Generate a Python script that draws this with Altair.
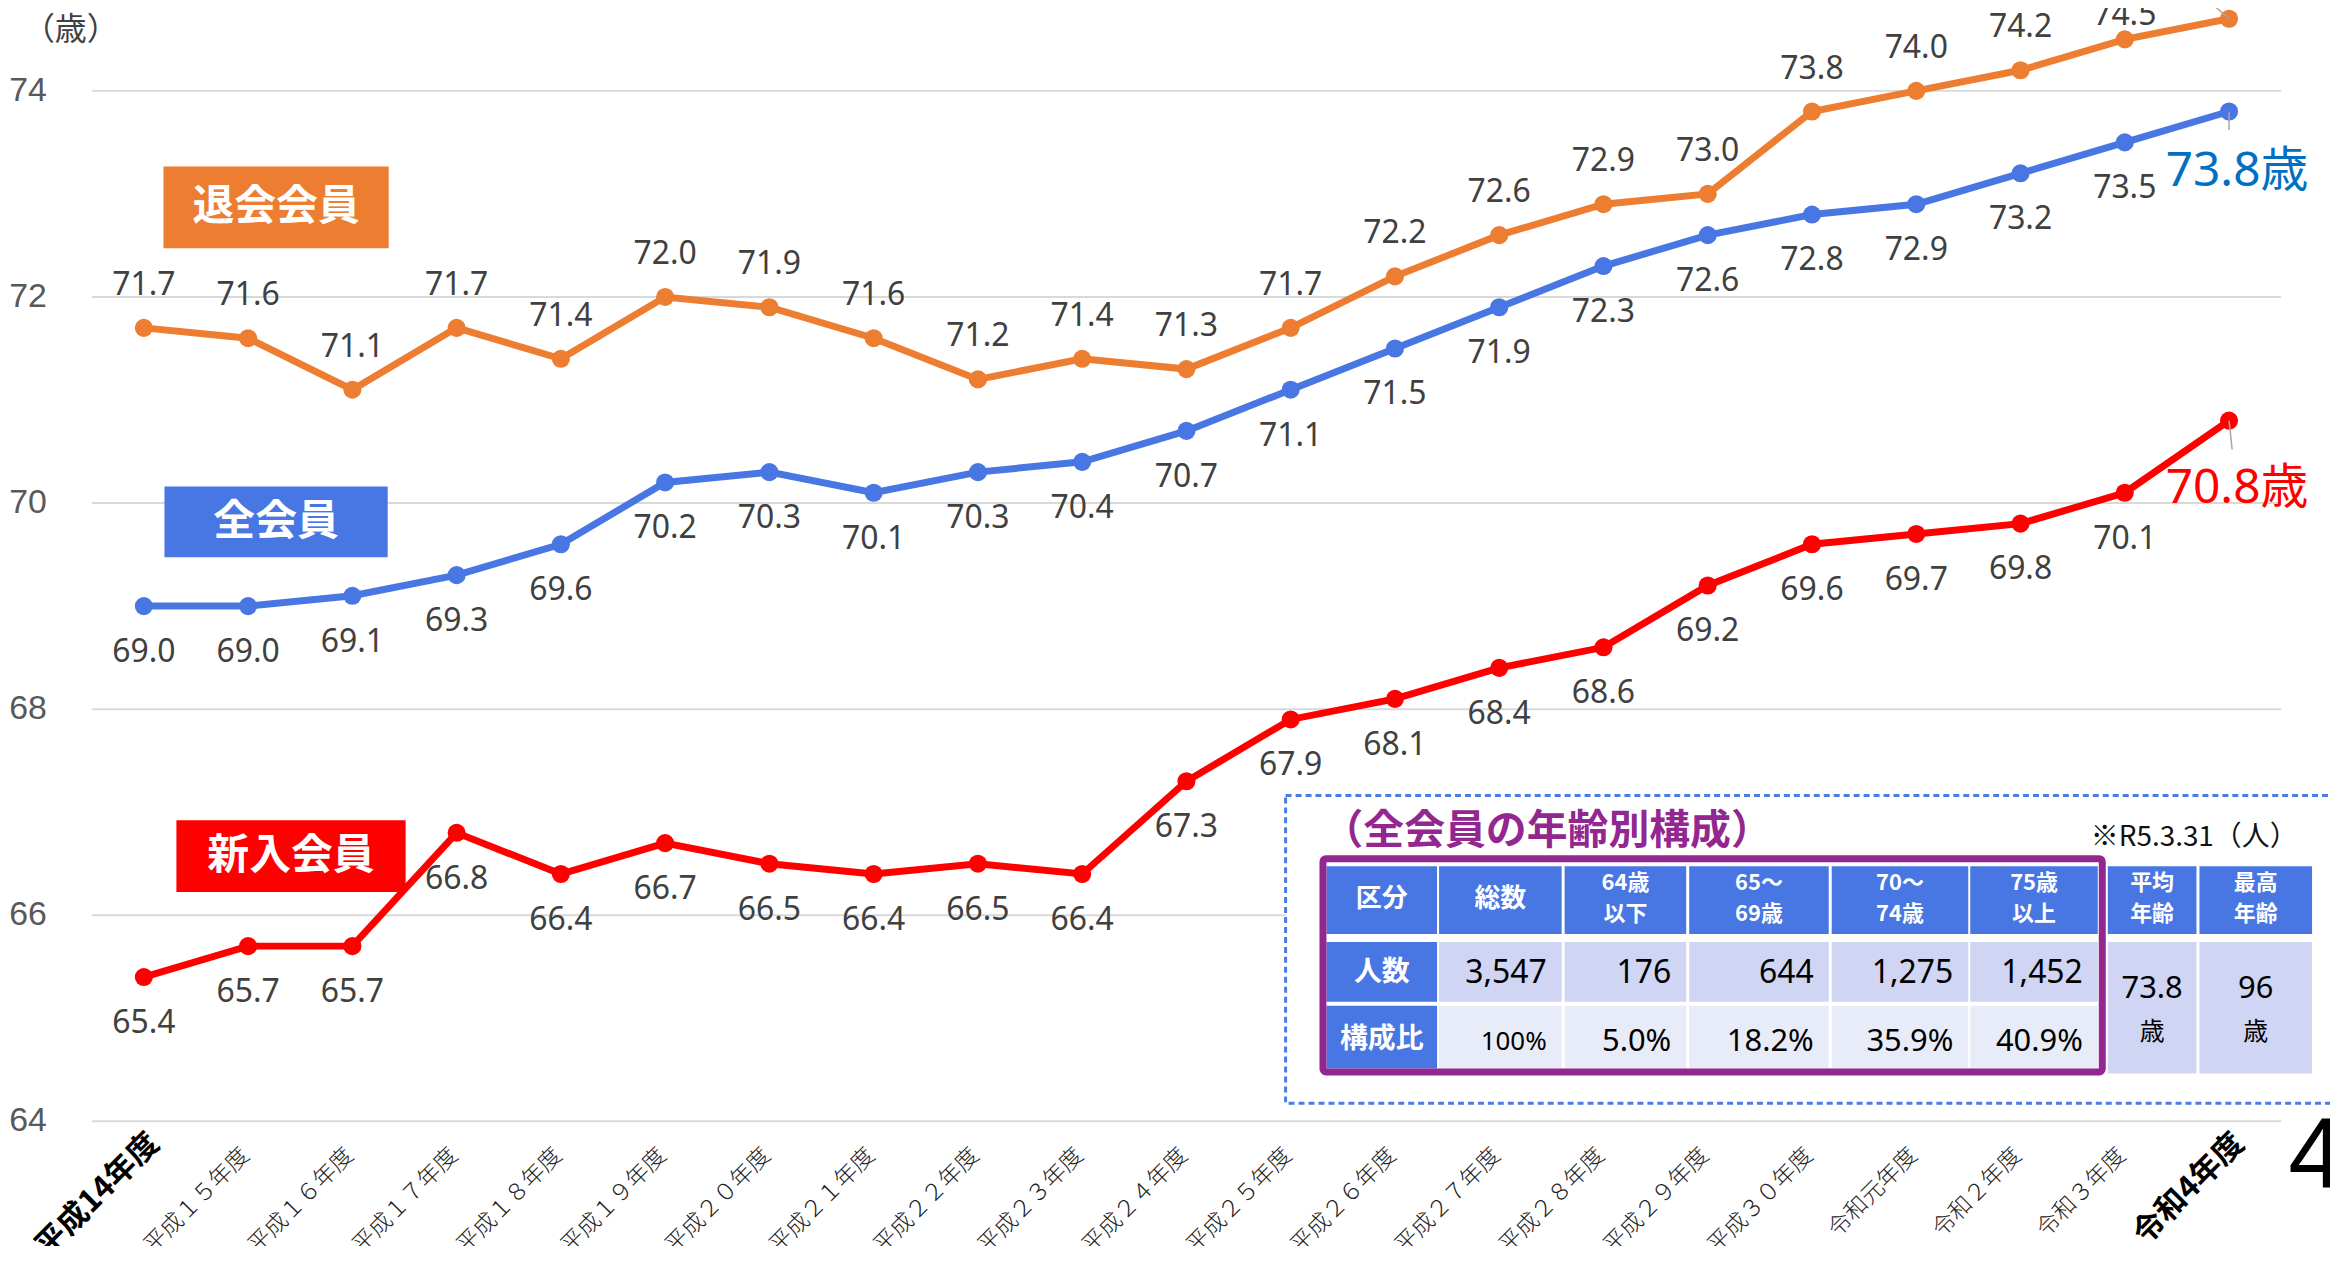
import altair as alt
import pandas as pd

# ---------------- data ----------------
years = ["平成14年度", "平成１５年度", "平成１６年度", "平成１７年度", "平成１８年度",
         "平成１９年度", "平成２０年度", "平成２１年度", "平成２２年度", "平成２３年度",
         "平成２４年度", "平成２５年度", "平成２６年度", "平成２７年度", "平成２８年度",
         "平成２９年度", "平成３０年度", "令和元年度", "令和２年度", "令和３年度", "令和4年度"]
bold_years = ["平成14年度", "令和4年度"]

retired = [71.7, 71.6, 71.1, 71.7, 71.4, 72.0, 71.9, 71.6, 71.2, 71.4, 71.3,
           71.7, 72.2, 72.6, 72.9, 73.0, 73.8, 74.0, 74.2, 74.5, 74.7]
all_members = [69.0, 69.0, 69.1, 69.3, 69.6, 70.2, 70.3, 70.1, 70.3, 70.4, 70.7,
               71.1, 71.5, 71.9, 72.3, 72.6, 72.8, 72.9, 73.2, 73.5, 73.8]
new_members = [65.4, 65.7, 65.7, 66.8, 66.4, 66.7, 66.5, 66.4, 66.5, 66.4, 67.3,
               67.9, 68.1, 68.4, 68.6, 69.2, 69.6, 69.7, 69.8, 70.1, 70.8]
series_names = ["退会会員", "全会員", "新入会員"]

y_ticks = [64, 66, 68, 70, 72, 74]
y_unit = "（歳）"

table_title = "（全会員の年齢別構成）"
table_note = "※R5.3.31（人）"
table_header = [["区分"], ["総数"], ["64歳", "以下"], ["65～", "69歳"], ["70～", "74歳"],
                ["75歳", "以上"], ["平均", "年齢"], ["最高", "年齢"]]
table_rows = ["人数", "構成比"]
table_counts = ["3,547", "176", "644", "1,275", "1,452"]
table_ratios = ["100%", "5.0%", "18.2%", "35.9%", "40.9%"]
avg_age = "73.8"
max_age = "96"
age_unit = "歳"

# ---------------- styles / layout ----------------
ORANGE = "#ED7D31"
BLUE = "#4876E2"
RED = "#FF0000"
PURPLE = "#92278F"
LIGHT1 = "#CFD5F3"
LIGHT2 = "#E8EBF8"
colors = [ORANGE, BLUE, RED]

W, H = 2197, 1111
OX, OY = 92, 12           # plot origin in page pixels
YMAX = 74.745

XS = alt.Scale(domain=[-0.5, 20.5], nice=False, zero=False)
YS = alt.Scale(domain=[64, YMAX], nice=False, zero=False)
X = alt.X("i:Q", scale=XS, axis=None)

PXf = lambda f: alt.X(f"{f}:Q", scale=None, axis=None)
PYf = lambda f: alt.Y(f"{f}:Q", scale=None, axis=None)


def box_df(items):
    return pd.DataFrame([dict(x=a - OX, x2=b - OX, y=c - OY, y2=d - OY, **extra)
                         for (a, b, c, d, extra) in items])


def txt_df(items):
    return pd.DataFrame([dict(x=a - OX, y=b - OY, t=t, **extra) for (a, b, t, extra) in items])


# main long table
rows = []
for name, vals in zip(series_names, [retired, all_members, new_members]):
    for i, v in enumerate(vals):
        rows.append(dict(s=name, i=i, v=v, lab=f"{v:.1f}"))
df = pd.DataFrame(rows)

layers = []

# ---- gridlines and y labels through the y scale ----
dgrid = pd.DataFrame(dict(t=y_ticks))
layers.append(alt.Chart(dgrid).mark_rule(color="#D9D9D9", strokeWidth=2).encode(
    y=alt.Y("t:Q", scale=YS, axis=None), x=alt.value(0), x2=alt.value(W)))
layers.append(alt.Chart(dgrid).mark_text(
    font="Liberation Sans Narrow, Liberation Sans", fontSize=34, color="#595959",
    align="right").encode(
    y=alt.Y("t:Q", scale=YS, axis=None), x=alt.value(-45), text="t:Q"))

# legend boxes (below the lines)
leg_geom = [(164, 390, 165, 247), (165, 389, 486, 557), (177, 407, 821, 893)]
legb = box_df([(g[0], g[1], g[2], g[3], dict(c=c, t=n, tx=(g[0] + g[1]) / 2 - OX, ty=(g[2] + g[3]) / 2 - OY))
               for g, c, n in zip(leg_geom, colors, series_names)])
layers.append(alt.Chart(legb).mark_rect().encode(
    x=PXf("x"), x2="x2:Q", y=PYf("y"), y2="y2:Q",
    color=alt.Color("c:N", scale=None, legend=None)))
layers.append(alt.Chart(legb).mark_text(font="Noto Sans CJK JP", fontWeight="bold",
                                        fontSize=42, color="white").encode(
    x=PXf("tx"), y=PYf("ty"), text="t:N"))

for k, (name, c) in enumerate(zip(series_names, colors)):
    b = alt.Chart(df).transform_filter(alt.datum.s == name)
    layers.append(b.mark_line(color=c, strokeWidth=7).encode(
        x=X, y=alt.Y("v:Q", scale=YS, axis=None)))
    layers.append(b.mark_circle(size=330, color=c, opacity=1).encode(
        x=X, y=alt.Y("v:Q", scale=YS, axis=None)))
    if k == 0:
        expr = f"min(datum.v + 0.416, {YMAX - 0.005})"
    else:
        expr = "datum.v - 0.445"
    layers.append(b.transform_filter(alt.datum.i < 20).transform_calculate(ly=expr)
                  .mark_text(font="Noto Sans", fontSize=32, color="#404040").encode(
        x=X, y=alt.Y("ly:Q", scale=YS, axis=None), text="lab:N"))

# leader lines at last points
lead = pd.DataFrame([
    dict(i=20, v=retired[-1], i2=20 - 0.4, v2=retired[-1] + 0.35),
    dict(i=20, v=all_members[-1], i2=20, v2=all_members[-1] - 0.18),
    dict(i=20, v=new_members[-1], i2=20 + 0.03, v2=new_members[-1] - 0.28),
])
layers.append(alt.Chart(lead).mark_rule(color="#A6A6A6", strokeWidth=1.5).encode(
    x=X, x2="i2:Q", y=alt.Y("v:Q", scale=YS, axis=None), y2="v2:Q"))

# special end labels
for vals, c, dy in [(all_members, "#0070C0", 61), (new_members, RED, 69)]:
    d = pd.DataFrame([dict(i=20, v=vals[-1], t=f"{vals[-1]:.1f}{age_unit}")])
    layers.append(alt.Chart(d).mark_text(font="Noto Sans, Noto Sans CJK JP", fontSize=48,
                                         color=c, dy=dy, dx=8).encode(
        x=X, y=alt.Y("v:Q", scale=YS, axis=None), text="t:N"))

# x labels
dfx = pd.DataFrame(dict(i=list(range(len(years))), t=years,
                        b=[y in bold_years for y in years]))
layers.append(alt.Chart(dfx).transform_filter("!datum.b").transform_calculate(ix="datum.i - 0.1")
              .mark_text(font="Noto Sans CJK JP", fontWeight=300, fontSize=23, color="#222222",
                         angle=315, align="right", baseline="top").encode(
    x=alt.X("ix:Q", scale=XS, axis=None), y=alt.value(1134), text="t:N"))
layers.append(alt.Chart(dfx).transform_filter("datum.b")
              .mark_text(font="Noto Sans CJK JP", fontWeight="bold", fontSize=31, color="#000000",
                         angle=315, align="right", baseline="top").encode(
    x=X, y=alt.value(1118), text="t:N"))

# ---------------- pixel overlays ----------------
unit = alt.Chart(txt_df([(71, 28, y_unit, {})])).mark_text(
    font="Noto Sans CJK JP", fontSize=32, color="#404040").encode(x=PXf("x"), y=PYf("y"), text="t:N")
four = alt.Chart(txt_df([(2296, 1190, "4", {})])).mark_text(
    font="Liberation Sans", fontSize=100, color="#000000", align="left", baseline="alphabetic").encode(
    x=PXf("x"), y=PYf("y"), text="t:N")

dash = alt.Chart(box_df([(1290, 2345, 796, 1105, {})])).mark_rect(
    fill="white", stroke="#4A7BE8", strokeWidth=3, strokeDash=[6, 4]).encode(
    x=PXf("x"), x2="x2:Q", y=PYf("y"), y2="y2:Q")

cols = [(1331, 1442), (1444, 1567), (1570, 1692), (1695, 1835), (1838, 1975), (1977, 2105),
        (2115, 2204), (2207, 2320)]
hdr = (867, 935)
r1 = (943, 1003)
r2 = (1007, 1070)
merged = (943, 1075)
cells = []
for j, (a, b) in enumerate(cols):
    cells.append((a, b, hdr[0], hdr[1], dict(c=BLUE)))
    if j == 0:
        cells.append((a, b, r1[0], r1[1], dict(c=BLUE)))
        cells.append((a, b, r2[0], r2[1], dict(c=BLUE)))
    elif j <= 5:
        cells.append((a, b, r1[0], r1[1], dict(c=LIGHT1)))
        cells.append((a, b, r2[0], r2[1], dict(c=LIGHT2)))
    else:
        cells.append((a, b, merged[0], merged[1], dict(c=LIGHT1)))
cell_layer = alt.Chart(box_df(cells)).mark_rect().encode(
    x=PXf("x"), x2="x2:Q", y=PYf("y"), y2="y2:Q", color=alt.Color("c:N", scale=None, legend=None))

frame = alt.Chart(box_df([(1327.5, 2109.5, 859.5, 1073.5, {})])).mark_rect(
    fill="white", fillOpacity=0, stroke=PURPLE, strokeWidth=7, cornerRadius=3).encode(
    x=PXf("x"), x2="x2:Q", y=PYf("y"), y2="y2:Q")

hdr_items = []
for (a, b), lines in zip(cols, table_header):
    if len(lines) == 1:
        hdr_items.append(((a + b) / 2, 900, lines[0], dict(fs=26)))
    else:
        hdr_items.append(((a + b) / 2, 884, lines[0], dict(fs=22)))
        hdr_items.append(((a + b) / 2, 915, lines[1], dict(fs=22)))
hdr_text = alt.Chart(txt_df(hdr_items)).mark_text(
    font="Noto Sans CJK JP", fontWeight="bold", color="white").encode(
    x=PXf("x"), y=PYf("y"), text="t:N", size=alt.Size("fs:Q", scale=None, legend=None))
row_text = alt.Chart(txt_df([((cols[0][0] + cols[0][1]) / 2, yy, t, {})
                             for yy, t in zip([974, 1041], table_rows)])).mark_text(
    font="Noto Sans CJK JP", fontWeight="bold", fontSize=28, color="white").encode(
    x=PXf("x"), y=PYf("y"), text="t:N")

num_items = []
for j, t in enumerate(table_counts):
    num_items.append((cols[j + 1][1] - 15, 974, t, dict(fs=32)))
for j, t in enumerate(table_ratios):
    num_items.append((cols[j + 1][1] - 15, 1043, t, dict(fs=26 if t == "100%" else 31)))
num_text = alt.Chart(txt_df(num_items)).mark_text(
    font="Noto Sans", color="#000000", align="right").encode(
    x=PXf("x"), y=PYf("y"), text="t:N", size=alt.Size("fs:Q", scale=None, legend=None))

age_items = []
for (a, b), v in zip(cols[6:], [avg_age, max_age]):
    age_items.append(((a + b) / 2, 990, v, dict(fs=31)))
    age_items.append(((a + b) / 2, 1033, age_unit, dict(fs=25)))
age_text = alt.Chart(txt_df(age_items)).mark_text(
    font="Noto Sans, Noto Sans CJK JP", color="#000000").encode(
    x=PXf("x"), y=PYf("y"), text="t:N", size=alt.Size("fs:Q", scale=None, legend=None))

title_text = alt.Chart(txt_df([(1327, 833, table_title, {})])).mark_text(
    font="Noto Sans CJK JP", fontWeight="bold", fontSize=41, color=PURPLE, align="left").encode(
    x=PXf("x"), y=PYf("y"), text="t:N")
note_text = alt.Chart(txt_df([(2098, 839, table_note, {})])).mark_text(
    font="Noto Sans CJK JP", fontSize=28, color="#111111", align="left").encode(
    x=PXf("x"), y=PYf("y"), text="t:N")

layers += [unit, dash, cell_layer, frame, hdr_text, row_text, num_text, age_text,
           title_text, note_text, four]

chart = alt.layer(*layers).properties(
    width=W, height=H,
    autosize=alt.AutoSizeParams(type="none"),
    padding={"left": 84, "top": 4, "right": 49, "bottom": 123},
    background="white",
).configure_view(stroke=None)

chart.save("out.html", embed_options={"renderer": "svg", "actions": False})
